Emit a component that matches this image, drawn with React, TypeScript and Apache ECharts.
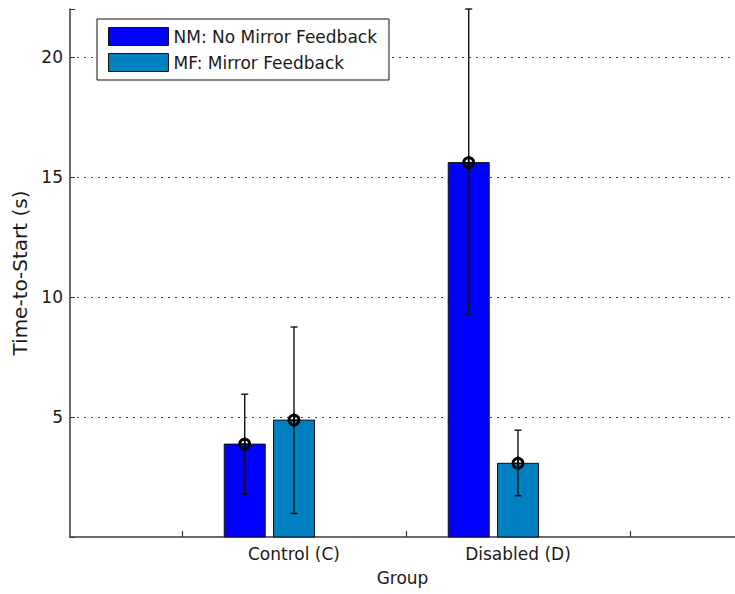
import React, { useEffect, useRef } from "react";
import * as echarts from "echarts";

const categories = ["Control (C)", "Disabled (D)"];
const categoryPositions = [1, 2];
const seriesNames = ["NM: No Mirror Feedback", "MF: Mirror Feedback"];
const nmMeans = [3.87, 15.6];
const nmLower = [1.78, 9.27];
const nmUpper = [5.95, 22.0];
const mfMeans = [4.87, 3.07];
const mfLower = [0.98, 1.72];
const mfUpper = [8.75, 4.45];
const yTicks = [5, 10, 15, 20];

const FONT = "DejaVu Sans";
const TEXT = "#1a1a1a";
const AXIS = "#3a3a3a";

export default function App() {
  const ref = useRef<HTMLDivElement>(null);
  useEffect(() => {
    if (!ref.current) return;
    const chart = echarts.init(ref.current, null, { renderer: "svg" });

    const makeData = (means: number[], lo: number[], hi: number[], offset: number) =>
      categoryPositions.map((p, i) => [p + offset, means[i], lo[i], hi[i]]);

    const barWidthUnits = 0.183;
    const renderItem = (color: string) => (params: any, api: any) => {
      const x = api.value(0);
      const y = api.value(1);
      const lo = api.value(2);
      const hi = api.value(3);
      const top = api.coord([x, y]);
      const base = api.coord([x, 0]);
      const w = api.size([barWidthUnits, 0])[0];
      const pLo = api.coord([x, lo]);
      const pHi = api.coord([x, hi]);
      const cx = top[0];
      const cap = 3.5;
      const lineStyle = { stroke: "#111", lineWidth: 1.4 };
      return {
        type: "group",
        children: [
          {
            type: "rect",
            shape: { x: cx - w / 2, y: top[1], width: w, height: base[1] - top[1] },
            style: { fill: color, stroke: "#111", lineWidth: 1 },
          },
          { type: "line", shape: { x1: cx, y1: pLo[1], x2: cx, y2: pHi[1] }, style: lineStyle },
          { type: "line", shape: { x1: cx - cap, y1: pLo[1], x2: cx + cap, y2: pLo[1] }, style: lineStyle },
          { type: "line", shape: { x1: cx - cap, y1: pHi[1], x2: cx + cap, y2: pHi[1] }, style: lineStyle },
          {
            type: "circle",
            shape: { cx, cy: top[1], r: 5 },
            style: { fill: "none", stroke: "#000", lineWidth: 2.8 },
          },
          { type: "line", shape: { x1: cx - 5, y1: top[1], x2: cx + 5, y2: top[1] }, style: { stroke: "#000", lineWidth: 1.3 } },
          { type: "line", shape: { x1: cx, y1: top[1] - 7, x2: cx, y2: top[1] + 7 }, style: { stroke: "#000", lineWidth: 1.8 } },
        ],
      };
    };

    const option: any = {
      animation: false,
      backgroundColor: "#ffffff",
      textStyle: { fontFamily: FONT, color: TEXT },
      grid: { left: 70, right: 0, top: 9, bottom: 57, containLabel: false },
      legend: {
        left: 97,
        top: 19,
        orient: "vertical",
        padding: [8, 12, 8, 11],
        itemWidth: 60,
        itemHeight: 18,
        itemGap: 7,
        borderColor: "#111",
        borderWidth: 1,
        backgroundColor: "#fff",
        icon: "rect",
        itemStyle: { borderColor: "#111", borderWidth: 1 },
        textStyle: { fontFamily: FONT, fontSize: 17, color: TEXT, padding: [0, 0, 0, 0] },
        data: seriesNames,
      },
      xAxis: {
        type: "value",
        min: 0,
        max: 665 / 224,
        interval: 0.5,
        name: "Group",
        nameLocation: "middle",
        nameGap: 32,
        nameTextStyle: { fontFamily: FONT, fontSize: 17, color: TEXT },
        axisLine: { show: true, lineStyle: { color: AXIS, width: 1.5 } },
        axisTick: { show: true, inside: true, length: 6, customValues: [0.5, 1.5, 2.5], lineStyle: { color: AXIS, width: 1.2 } },
        axisLabel: {
          show: true,
          customValues: categoryPositions,
          formatter: (v: number) => {
            const i = categoryPositions.indexOf(Math.round(v));
            return i >= 0 ? categories[i] : "";
          },
          fontFamily: FONT,
          fontSize: 17,
          color: TEXT,
          margin: 8,
        },
        splitLine: { show: false },
      },
      yAxis: {
        type: "value",
        min: 0,
        max: 22,
        interval: 5,
        name: "Time-to-Start (s)",
        nameLocation: "middle",
        nameGap: 35,
        nameTextStyle: { fontFamily: FONT, fontSize: 20, color: TEXT },
        axisLine: { show: true, lineStyle: { color: AXIS, width: 1.5 } },
        axisTick: { show: true, inside: true, length: 5, lineStyle: { color: AXIS } },
        axisLabel: {
          fontFamily: FONT,
          fontSize: 17,
          color: TEXT,
          margin: 7,
          formatter: (v: number) => (yTicks.includes(v) ? String(v) : ""),
        },
        splitLine: {
          show: true,
          showMinLine: false,
          showMaxLine: false,
          lineStyle: { color: "#444", width: 1, type: [2, 5] },
        },
      },
      series: [
        {
          name: seriesNames[0],
          type: "custom",
          itemStyle: { color: "#0000ff" },
          data: makeData(nmMeans, nmLower, nmUpper, -0.22),
          encode: { x: 0, y: 1 },
          renderItem: renderItem("#0000ff"),
        },
        {
          name: seriesNames[1],
          type: "custom",
          itemStyle: { color: "#0080c0" },
          data: makeData(mfMeans, mfLower, mfUpper, 0),
          encode: { x: 0, y: 1 },
          renderItem: renderItem("#0080c0"),
        },
      ],
    };
    chart.setOption(option);
    return () => chart.dispose();
  }, []);
  return (
    <div
      ref={ref}
      style={{ position: "fixed", left: 0, top: 0, width: 735, height: 594, background: "#fff" }}
    />
  );
}
